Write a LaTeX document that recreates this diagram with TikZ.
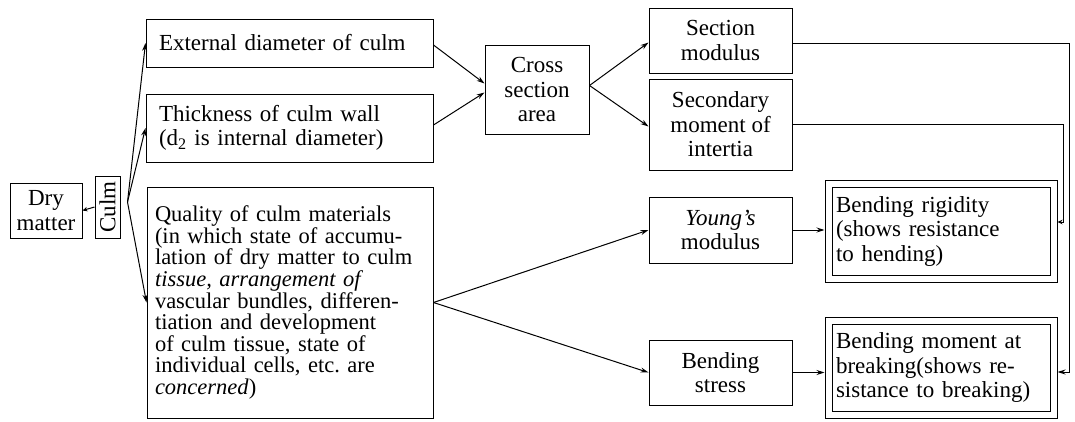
\documentclass[tikz,border=0pt]{standalone}
\usepackage{fontspec}
\setmainfont{Liberation Serif}
\usetikzlibrary{arrows.meta,calc}
\begin{document}
\begin{tikzpicture}[x=1pt,y=-1pt,
  font=\fontsize{23}{24.5}\selectfont,
  box/.style={draw, line width=1pt, inner sep=0pt, outer sep=0.5pt},
  dbl/.style={draw, double, double distance=6pt, line width=1pt, inner sep=0pt, outer sep=4pt},
  arr/.style={line width=1pt, -{Stealth[length=8pt,width=5pt]}},
  smallarr/.style={line width=1pt, -{Stealth[length=5pt,width=4.5pt]}}]
\useasboundingbox (0,0) rectangle (1075,421);
% left column
\node[box, minimum width=72pt, minimum height=55pt, align=center] (dry) at (46,210.5) {Dry\\matter};
\node[box, minimum width=25pt, minimum height=62pt] (culm) at (107.5,207) {\rotatebox{90}{Culm}};
\coordinate (cf) at ([xshift=7pt,yshift=5pt]culm.east);
% second column
\node[box, minimum width=287pt, minimum height=48pt, text width=261pt, inner xsep=13pt, align=left] (ext) at (289.5,43) {External diameter of culm};
\node[box, minimum width=287pt, minimum height=68pt, text width=261pt, inner xsep=13pt, align=left] (thick) at (289.5,128) {Thickness of culm wall\\(d\textsubscript{2} is internal diameter)};
\node[box, minimum width=286pt, minimum height=231pt, text width=270pt, inner xsep=8pt, align=left, font=\fontsize{22.5}{21.6}\selectfont] (qual) at (290,302.5) {Quality of culm materials\\(in which state of accumu-\\lation of dry matter to culm\\\textit{tissue, arrangement of}\\vascular bundles, differen-\\tiation and development\\of culm tissue, state of\\individual cells, etc.\ are\\\textit{concerned})};
% cross section
\node[box, minimum width=104pt, minimum height=89pt, align=center] (cross) at (537,89.5) {Cross\\section\\area};
% fourth column
\node[box, minimum width=143pt, minimum height=65pt, align=center] (secmod) at (720.5,40.5) {Section\\modulus};
\node[box, minimum width=143pt, minimum height=91pt, align=center] (second) at (720.5,124.5) {Secondary\\moment of\\intertia};
\node[box, minimum width=143pt, minimum height=66pt, align=center] (young) at (720.5,230) {\textit{Young’s}\\modulus};
\node[box, minimum width=143pt, minimum height=65pt, align=center] (stress) at (720.5,372.5) {Bending\\stress};
% result boxes
\node[dbl, minimum width=225pt, minimum height=95pt, text width=210pt, inner xsep=7.5pt, align=left] (rigid) at (941,231) {Bending rigidity\\(shows resistance\\to hending)};
\node[dbl, minimum width=225pt, minimum height=94pt, text width=210pt, inner xsep=7.5pt, align=left] (moment) at (941,367.5) {Bending moment at\\breaking(shows re-\\sistance to breaking)};
% helper coordinates for the right-hand return lines
\coordinate (rx1) at (1069,200);
\coordinate (rx2) at (1063,200);
% connectors
\draw[smallarr] (culm.west) -- (dry.east);
\draw[arr] (cf) -- (ext.west);
\draw[arr] (cf) -- (thick.west);
\draw[arr] (cf) -- (qual.west);
\draw[arr] ([yshift=-2pt]ext.east) -- ([yshift=6pt]cross.west);
\draw[arr] ([yshift=3pt]thick.east) -- ([yshift=-3pt]cross.west);
\draw[arr] ([yshift=4pt]cross.east) -- ([yshift=-2pt]secmod.west);
\draw[arr] ([yshift=4pt]cross.east) -- ([yshift=-2pt]second.west);
\draw[arr] (qual.east) -- (young.west);
\draw[arr] (qual.east) -- (stress.west);
\draw[arr] (young.east) -- (young.east -| rigid.west);
\draw[arr] (stress.east) -- (stress.east -| moment.west);
\draw[arr] ([yshift=-2.5pt]secmod.east) -| (rx1) |- ([yshift=-4.5pt]moment.east);
\draw[smallarr] (second.east) -| (rx2) |- ([yshift=9pt]rigid.east);
\end{tikzpicture}
\end{document}
